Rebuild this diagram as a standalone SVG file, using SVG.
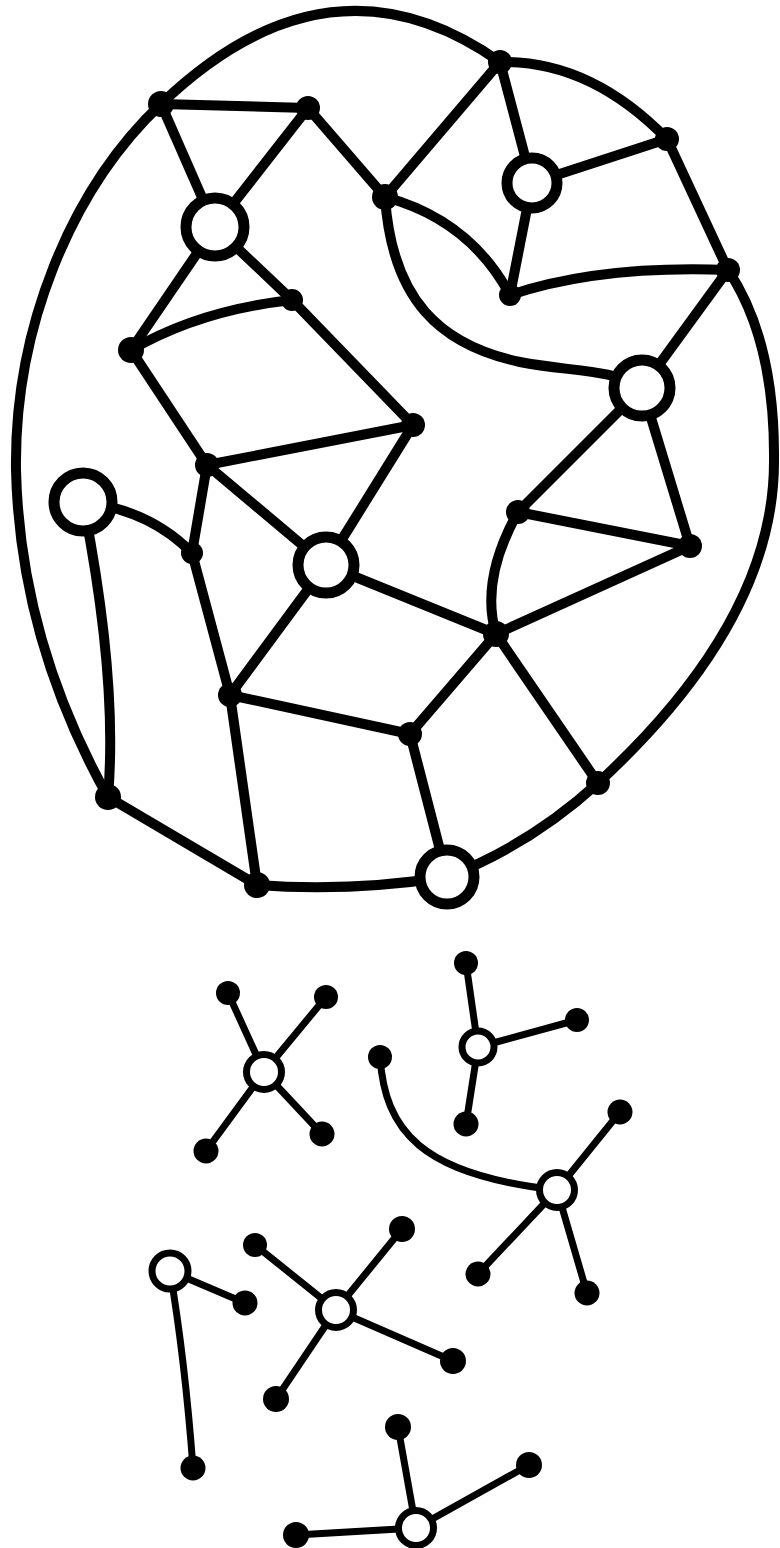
<svg xmlns="http://www.w3.org/2000/svg" width="780" height="1548" viewBox="0 0 780 1548">
<style>
.e{fill:none;stroke:#000;stroke-width:10;stroke-linecap:round;stroke-linejoin:round}
.es{fill:none;stroke:#000;stroke-width:7;stroke-linecap:round}
.f{fill:#000}
.o{fill:#fff;stroke:#000;stroke-width:11}
.fs{fill:#000}
.os{fill:#fff;stroke:#000;stroke-width:7}
</style>
<rect width="780" height="1548" fill="#fff"/>
<g id="connectors">
<path class="e" d="M161,104 Q330,-58 500,62 Q590,60 667,139 L728,270 Q775,340 774,460 Q775,620 598,783 Q530,845 447,877 Q350,892 257,885 L108,797 Q20,640 16,470 C14,330 70,190 161,104 Z"/>
<path class="e" d="M161,104 L308,108"/>
<path class="e" d="M161,104 L215,227"/>
<path class="e" d="M308,108 L215,227"/>
<path class="e" d="M308,108 L385,197"/>
<path class="e" d="M385,197 L500,62"/>
<path class="e" d="M500,62 L532,183"/>
<path class="e" d="M532,183 L667,139"/>
<path class="e" d="M532,183 L510,295"/>
<path class="e" d="M510,295 Q600,265 728,270"/>
<path class="e" d="M385,197 Q470,220 510,295"/>
<path class="e" d="M385,197 C392,300 440,345 520,362 C570,372 610,368 642,388"/>
<path class="e" d="M642,388 L728,270"/>
<path class="e" d="M642,388 L518,512"/>
<path class="e" d="M642,388 L690,546"/>
<path class="e" d="M518,512 L690,546"/>
<path class="e" d="M690,546 L496,634"/>
<path class="e" d="M518,512 Q480,580 496,634"/>
<path class="e" d="M215,227 L131,350"/>
<path class="e" d="M215,227 L292,300"/>
<path class="e" d="M131,350 Q200,310 292,300"/>
<path class="e" d="M131,350 L207,465"/>
<path class="e" d="M292,300 L413,425"/>
<path class="e" d="M207,465 L413,425"/>
<path class="e" d="M413,425 L326,565"/>
<path class="e" d="M207,465 L326,565"/>
<path class="e" d="M207,465 L192,553"/>
<path class="e" d="M83,502 Q150,510 192,553"/>
<path class="e" d="M192,553 L230,695"/>
<path class="e" d="M83,502 Q118,680 108,797"/>
<path class="e" d="M326,565 L230,695"/>
<path class="e" d="M326,565 L496,634"/>
<path class="e" d="M496,634 L410,734"/>
<path class="e" d="M230,695 L410,734"/>
<path class="e" d="M230,695 L257,885"/>
<path class="e" d="M410,734 L447,877"/>
<path class="e" d="M496,634 L598,783"/>
<path class="es" d="M264,1072 L228,993 M264,1072 L326,997 M264,1072 L206,1151 M264,1072 L322,1134"/>
<path class="es" d="M478,1047 L466,963 M478,1047 L577,1020 M478,1047 L466,1124"/>
<path class="es" d="M380,1057 C385,1130 420,1175 557,1190 M557,1190 L620,1112 M557,1190 L478,1274 M557,1190 L587,1293"/>
<path class="es" d="M170,1271 L245,1303 M170,1271 Q185,1360 193,1468"/>
<path class="es" d="M336,1310 L255,1245 M336,1310 L402,1229 M336,1310 L453,1361 M336,1310 L276,1399"/>
<path class="es" d="M416,1528 L398,1427 M416,1528 L529,1465 M416,1528 L296,1535"/>
</g>
<g id="nA"><circle class="f" cx="161" cy="104" r="13"/></g>
<g id="nB"><circle class="f" cx="308" cy="108" r="12"/></g>
<g id="nC"><circle class="f" cx="385" cy="197" r="13"/></g>
<g id="nD"><circle class="f" cx="500" cy="62" r="12"/></g>
<g id="nE"><circle class="o" cx="532" cy="183" r="25"/></g>
<g id="nF"><circle class="f" cx="667" cy="139" r="12"/></g>
<g id="nG"><circle class="f" cx="728" cy="270" r="12"/></g>
<g id="nH"><circle class="f" cx="510" cy="295" r="11"/></g>
<g id="nI"><circle class="o" cx="215" cy="227" r="29"/></g>
<g id="nJ"><circle class="o" cx="642" cy="388" r="28"/></g>
<g id="nK"><circle class="o" cx="326" cy="565" r="28"/></g>
<g id="nL"><circle class="o" cx="83" cy="502" r="29"/></g>
<g id="nM"><circle class="o" cx="447" cy="877" r="27"/></g>
<g id="nN"><circle class="f" cx="131" cy="350" r="13"/></g>
<g id="nO"><circle class="f" cx="292" cy="300" r="11"/></g>
<g id="nP"><circle class="f" cx="413" cy="425" r="12"/></g>
<g id="nQ"><circle class="f" cx="207" cy="465" r="12"/></g>
<g id="nR"><circle class="f" cx="192" cy="553" r="11"/></g>
<g id="nS"><circle class="f" cx="518" cy="512" r="12"/></g>
<g id="nT"><circle class="f" cx="690" cy="546" r="12"/></g>
<g id="nU"><circle class="f" cx="496" cy="634" r="13"/></g>
<g id="nV"><circle class="f" cx="230" cy="695" r="12"/></g>
<g id="nW"><circle class="f" cx="410" cy="734" r="12"/></g>
<g id="nX"><circle class="f" cx="598" cy="783" r="12"/></g>
<g id="nY"><circle class="f" cx="108" cy="797" r="13"/></g>
<g id="nZ"><circle class="f" cx="257" cy="885" r="13"/></g>
<g id="c1">
<circle class="os" cx="264" cy="1072" r="17.5"/>
<circle class="fs" cx="228" cy="993" r="12"/>
<circle class="fs" cx="326" cy="997" r="12"/>
<circle class="fs" cx="206" cy="1151" r="12.5"/>
<circle class="fs" cx="322" cy="1134" r="12.5"/>
</g>
<g id="c2">
<circle class="os" cx="478" cy="1047" r="16"/>
<circle class="fs" cx="466" cy="963" r="12"/>
<circle class="fs" cx="577" cy="1020" r="12"/>
<circle class="fs" cx="466" cy="1124" r="12.5"/>
</g>
<g id="c3">
<circle class="os" cx="557" cy="1190" r="17.5"/>
<circle class="fs" cx="380" cy="1057" r="12"/>
<circle class="fs" cx="620" cy="1112" r="12.5"/>
<circle class="fs" cx="478" cy="1274" r="12.5"/>
<circle class="fs" cx="587" cy="1293" r="12.5"/>
</g>
<g id="c4">
<circle class="os" cx="170" cy="1271" r="18"/>
<circle class="fs" cx="245" cy="1303" r="12.5"/>
<circle class="fs" cx="193" cy="1468" r="12.5"/>
</g>
<g id="c5">
<circle class="os" cx="336" cy="1310" r="17.5"/>
<circle class="fs" cx="255" cy="1245" r="12"/>
<circle class="fs" cx="402" cy="1229" r="13"/>
<circle class="fs" cx="453" cy="1361" r="13"/>
<circle class="fs" cx="276" cy="1399" r="13"/>
</g>
<g id="c6">
<circle class="os" cx="416" cy="1528" r="17.5"/>
<circle class="fs" cx="398" cy="1427" r="13"/>
<circle class="fs" cx="529" cy="1465" r="13"/>
<circle class="fs" cx="296" cy="1535" r="13"/>
</g>
</svg>
